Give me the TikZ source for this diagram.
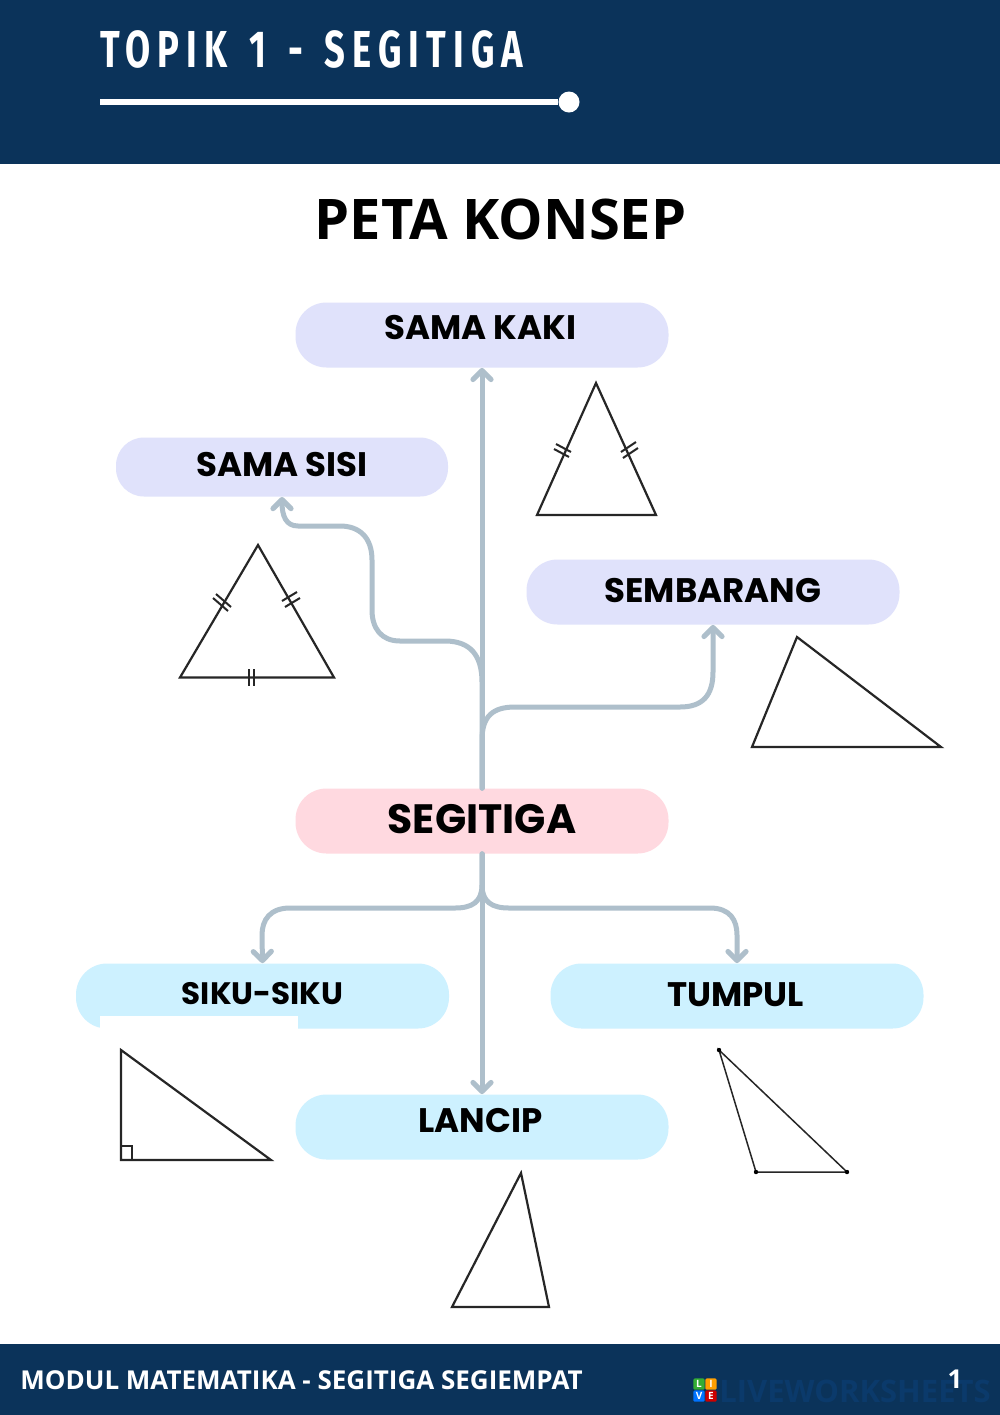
\documentclass[tikz,border=0pt]{standalone}
\usepackage{fontspec}
\setmainfont{Open Sans}
\newfontfamily\headfont[FakeStretch=0.7,LetterSpace=13.5,WordSpace=1.4]{Fira Sans}
\newfontfamily\labelfont{Poppins}
\newfontfamily\strongfont{Open Sans}
\usetikzlibrary{arrows.meta}
\definecolor{navy}{HTML}{0B335A}
\definecolor{lilac}{HTML}{E0E2FB}
\definecolor{rosy}{HTML}{FFD9E0}
\definecolor{sky}{HTML}{CDF1FF}
\definecolor{steel}{HTML}{AEBFCB}
\definecolor{wm}{HTML}{0B3A6B}
\tikzset{
  x=0.5pt,y=-0.5pt,
  pill/.style={rounded corners=15.5pt,minimum height=32.5pt,inner sep=0pt,text=black,font=\labelfont\bfseries\fontsize{17}{18}\selectfont},
  link/.style={draw=steel,line width=2.5pt,line cap=round,-{Straight Barb[length=4.5pt,width=9pt,line width=2.6pt,round]}},
  tri/.style={draw=black!85,line width=1.1pt,line join=miter},
  tick/.style={draw=black!85,line width=1pt},
  logo/.style={minimum size=5.6pt,inner sep=0pt,rounded corners=0.6pt,text=white,font=\bfseries\fontsize{5}{5}\selectfont},
}
\begin{document}
\begin{tikzpicture}
\useasboundingbox (0,0) rectangle (1000,1415);
\fill[white] (0,0) rectangle (1000,1415);
% header and footer
\fill[navy] (0,0) rectangle (1000,164);
\fill[navy] (0,1344) rectangle (1000,1415);
\node[anchor=west,inner sep=0pt,text=white,font=\headfont\bfseries\fontsize{26}{26}\selectfont] (head) at (100,49) {TOPIK 1 - SEGITIGA};
\coordinate (ruleL) at (100,102);
\node[circle,fill=white,minimum size=10.5pt,inner sep=0pt] (ruleEnd) at (569,102) {};
\draw[white,line width=2.6pt] (ruleL) -- (ruleEnd);
\node[inner sep=0pt,font=\strongfont\bfseries\fontsize{28}{28}\selectfont] (title) at (500.5,219) {PETA KONSEP};
\node[anchor=west,inner sep=0pt,text=white,font=\strongfont\bfseries\fontsize{13}{13}\selectfont] (foot) at (20,1380) {MODUL MATEMATIKA - SEGITIGA SEGIEMPAT};
% pills
\node[pill,fill=lilac,minimum width=186.5pt] (kaki) at (482,335) {\hspace*{-1.5pt}\raisebox{7.5pt}{SAMA KAKI}};
\node[pill,fill=lilac,minimum width=166pt,minimum height=29.5pt,rounded corners=14pt] (sisi) at (282,467) {\raisebox{2.5pt}{SAMA SISI}};
\node[pill,fill=lilac,minimum width=186.5pt] (semb) at (713,592) {\raisebox{1.5pt}{SEMBARANG}};
\node[pill,fill=rosy,minimum width=186.5pt,font=\labelfont\bfseries\fontsize{20.5}{21}\selectfont] (seg) at (482,821) {\raisebox{2.5pt}{SEGITIGA}};
\node[pill,fill=sky,minimum width=186.5pt,font=\labelfont\bfseries\fontsize{15.5}{16}\selectfont] (siku) at (262.5,996) {\raisebox{3pt}{SIKU-SIKU}};
% patch over SIKU-SIKU pill
\fill[white] (100,1016) rectangle (298,1175);
\node[pill,fill=sky,minimum width=186.5pt] (tump) at (737,996) {\hspace*{-1.5pt}\raisebox{1pt}{TUMPUL}};
\node[pill,fill=sky,minimum width=186.5pt] (lanc) at (482,1127) {\hspace*{-1.5pt}\raisebox{6.5pt}{LANCIP}};
% connectors
\draw[link] (seg.north) -- (kaki.south);
\draw[link] (seg.north) -- (482,682) .. controls (482,655) and (470,641) .. (445,641)
  -- (400,641) .. controls (381,641) and (372,628) .. (372,610)
  -- (372,560) .. controls (372,538) and (360,526) .. (340,526)
  -- (298,526) .. controls (286,526) and (282,516) .. (282,497);
\draw[link] (seg.north) -- (482,740) .. controls (482,716) and (493,707) .. (515,707)
  -- (680,707) .. controls (703,707) and (713,695) .. (713,672) -- (semb.south);
\draw[link] (seg.south) -- (482,885) .. controls (482,902) and (472,908) .. (455,908)
  -- (290,908) .. controls (270,908) and (262,920) .. (262,935) -- (siku.north);
\draw[link] (seg.south) -- (482,885) .. controls (482,902) and (492,908) .. (509,908)
  -- (710,908) .. controls (730,908) and (737,920) .. (737,935) -- (tump.north);
\draw[link] (seg.south) -- (lanc.north);
% triangles
\draw[tri] (596,383) -- (656,515) -- (537,515) -- cycle;
\draw[tick] (554,449) -- (569,457) (556,444) -- (571,452);
\draw[tick] (621,452) -- (636,442) (623,458) -- (638,448);
\draw[tri] (258,545) -- (334,677.5) -- (180,677.5) -- cycle;
\draw[tick] (213,598) -- (228,611) (216,594) -- (231,607);
\draw[tick] (282,601) -- (297,592) (285,607) -- (300,598);
\draw[tick] (249,669) -- (249,686) (254,669) -- (254,686);
\draw[tri] (797,637) -- (941,747) -- (752,747) -- cycle;
\draw[tri] (121,1050) -- (271,1160) -- (121,1160) -- cycle;
\draw[tri,line width=0.9pt] (121,1146) -- (132,1146) -- (132,1160);
\draw[tri,line width=0.75pt] (719,1050) -- (847,1172) -- (756,1172) -- cycle;
\fill[black] (719,1050) circle (1.1pt) (847,1172) circle (1.1pt) (756,1172) circle (1.1pt);
\draw[tri] (521,1173) -- (549,1307) -- (452,1307) -- cycle;
% watermark
\node[anchor=west,inner sep=0pt,text=wm,font=\strongfont\bfseries\fontsize{15.5}{16}\selectfont] (wmark) at (719,1391) {LIVEWORKSHEETS};
\node[logo,fill=green!60!black!80] (l1) at (699,1384) {L};
\node[logo,fill=orange!75!yellow] (l2) at (711,1384) {I};
\node[logo,fill=blue!55!cyan] (l3) at (699,1396) {V};
\node[logo,fill=red!80!black] (l4) at (711,1396) {E};
\node[inner sep=0pt,text=white,font=\strongfont\bfseries\fontsize{13}{13}\selectfont] (pg) at (955,1379) {1};
\end{tikzpicture}
\end{document}
